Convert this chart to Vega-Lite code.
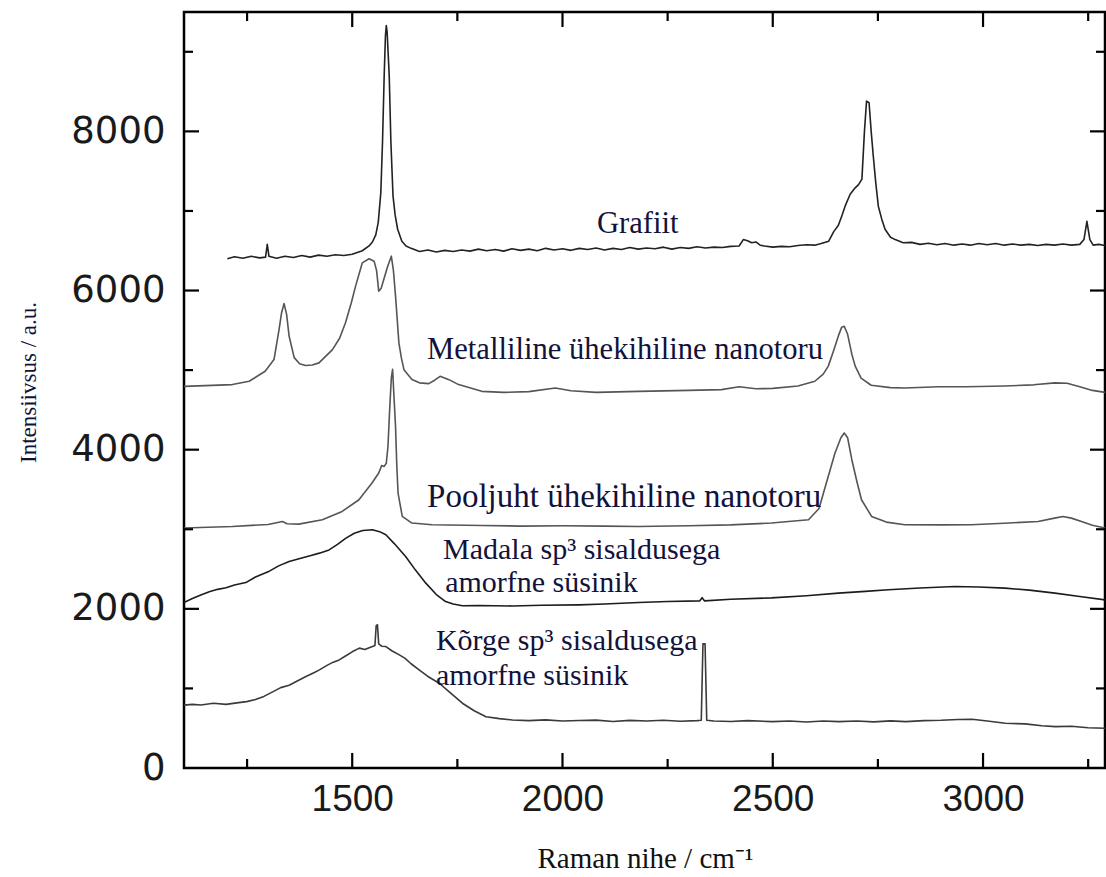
{
  "$schema": "https://vega.github.io/schema/vega-lite/v6.json",
  "autosize": {"type": "none"},
  "width": 921,
  "height": 756,
  "padding": {"left": 184, "top": 12, "right": 1, "bottom": 109},
  "background": "white",
  "config": {
    "view": {"stroke": "black", "strokeWidth": 2.5},
    "axis": {"grid": false, "domain": false, "ticks": false}
  },
  "datasets": {
    "spectra": [
      {"s": "Grafiit", "x": 1203, "y": 6400}, {"s": "Grafiit", "x": 1220, "y": 6425}, {"s": "Grafiit", "x": 1240, "y": 6405},
      {"s": "Grafiit", "x": 1260, "y": 6430}, {"s": "Grafiit", "x": 1280, "y": 6410}, {"s": "Grafiit", "x": 1294, "y": 6420},
      {"s": "Grafiit", "x": 1298, "y": 6580}, {"s": "Grafiit", "x": 1302, "y": 6430}, {"s": "Grafiit", "x": 1320, "y": 6405},
      {"s": "Grafiit", "x": 1340, "y": 6430}, {"s": "Grafiit", "x": 1360, "y": 6415}, {"s": "Grafiit", "x": 1380, "y": 6440},
      {"s": "Grafiit", "x": 1400, "y": 6420}, {"s": "Grafiit", "x": 1420, "y": 6445}, {"s": "Grafiit", "x": 1440, "y": 6430},
      {"s": "Grafiit", "x": 1460, "y": 6450}, {"s": "Grafiit", "x": 1480, "y": 6440}, {"s": "Grafiit", "x": 1500, "y": 6455},
      {"s": "Grafiit", "x": 1524, "y": 6500}, {"s": "Grafiit", "x": 1540, "y": 6560}, {"s": "Grafiit", "x": 1548, "y": 6610},
      {"s": "Grafiit", "x": 1556, "y": 6700}, {"s": "Grafiit", "x": 1562, "y": 6860}, {"s": "Grafiit", "x": 1568, "y": 7230},
      {"s": "Grafiit", "x": 1572, "y": 7860}, {"s": "Grafiit", "x": 1576, "y": 8700}, {"s": "Grafiit", "x": 1579, "y": 9200},
      {"s": "Grafiit", "x": 1581, "y": 9330}, {"s": "Grafiit", "x": 1583, "y": 9250}, {"s": "Grafiit", "x": 1588, "y": 8700},
      {"s": "Grafiit", "x": 1592, "y": 7860}, {"s": "Grafiit", "x": 1597, "y": 7190}, {"s": "Grafiit", "x": 1602, "y": 6950},
      {"s": "Grafiit", "x": 1608, "y": 6770}, {"s": "Grafiit", "x": 1618, "y": 6620}, {"s": "Grafiit", "x": 1628, "y": 6560},
      {"s": "Grafiit", "x": 1640, "y": 6530}, {"s": "Grafiit", "x": 1660, "y": 6490}, {"s": "Grafiit", "x": 1680, "y": 6510},
      {"s": "Grafiit", "x": 1700, "y": 6485}, {"s": "Grafiit", "x": 1720, "y": 6505}, {"s": "Grafiit", "x": 1740, "y": 6490},
      {"s": "Grafiit", "x": 1760, "y": 6510}, {"s": "Grafiit", "x": 1780, "y": 6495}, {"s": "Grafiit", "x": 1800, "y": 6520},
      {"s": "Grafiit", "x": 1820, "y": 6500}, {"s": "Grafiit", "x": 1840, "y": 6515}, {"s": "Grafiit", "x": 1860, "y": 6495},
      {"s": "Grafiit", "x": 1880, "y": 6525}, {"s": "Grafiit", "x": 1900, "y": 6505}, {"s": "Grafiit", "x": 1920, "y": 6520},
      {"s": "Grafiit", "x": 1940, "y": 6500}, {"s": "Grafiit", "x": 1960, "y": 6530}, {"s": "Grafiit", "x": 1980, "y": 6510},
      {"s": "Grafiit", "x": 2000, "y": 6525}, {"s": "Grafiit", "x": 2020, "y": 6505}, {"s": "Grafiit", "x": 2040, "y": 6530},
      {"s": "Grafiit", "x": 2060, "y": 6515}, {"s": "Grafiit", "x": 2080, "y": 6535}, {"s": "Grafiit", "x": 2100, "y": 6510},
      {"s": "Grafiit", "x": 2120, "y": 6530}, {"s": "Grafiit", "x": 2140, "y": 6515}, {"s": "Grafiit", "x": 2160, "y": 6540},
      {"s": "Grafiit", "x": 2180, "y": 6520}, {"s": "Grafiit", "x": 2200, "y": 6535}, {"s": "Grafiit", "x": 2220, "y": 6525},
      {"s": "Grafiit", "x": 2240, "y": 6545}, {"s": "Grafiit", "x": 2260, "y": 6520}, {"s": "Grafiit", "x": 2280, "y": 6540},
      {"s": "Grafiit", "x": 2300, "y": 6530}, {"s": "Grafiit", "x": 2320, "y": 6550}, {"s": "Grafiit", "x": 2340, "y": 6535},
      {"s": "Grafiit", "x": 2360, "y": 6545}, {"s": "Grafiit", "x": 2380, "y": 6540}, {"s": "Grafiit", "x": 2400, "y": 6555},
      {"s": "Grafiit", "x": 2420, "y": 6560}, {"s": "Grafiit", "x": 2430, "y": 6640}, {"s": "Grafiit", "x": 2440, "y": 6625},
      {"s": "Grafiit", "x": 2450, "y": 6600}, {"s": "Grafiit", "x": 2460, "y": 6610}, {"s": "Grafiit", "x": 2470, "y": 6570},
      {"s": "Grafiit", "x": 2480, "y": 6560}, {"s": "Grafiit", "x": 2500, "y": 6545}, {"s": "Grafiit", "x": 2520, "y": 6555},
      {"s": "Grafiit", "x": 2540, "y": 6550}, {"s": "Grafiit", "x": 2560, "y": 6565}, {"s": "Grafiit", "x": 2580, "y": 6575},
      {"s": "Grafiit", "x": 2600, "y": 6570}, {"s": "Grafiit", "x": 2615, "y": 6590}, {"s": "Grafiit", "x": 2633, "y": 6620},
      {"s": "Grafiit", "x": 2645, "y": 6740}, {"s": "Grafiit", "x": 2656, "y": 6820}, {"s": "Grafiit", "x": 2665, "y": 6950},
      {"s": "Grafiit", "x": 2672, "y": 7060}, {"s": "Grafiit", "x": 2684, "y": 7210}, {"s": "Grafiit", "x": 2696, "y": 7290},
      {"s": "Grafiit", "x": 2704, "y": 7330}, {"s": "Grafiit", "x": 2712, "y": 7400}, {"s": "Grafiit", "x": 2718, "y": 8000},
      {"s": "Grafiit", "x": 2723, "y": 8380}, {"s": "Grafiit", "x": 2729, "y": 8360}, {"s": "Grafiit", "x": 2734, "y": 8000},
      {"s": "Grafiit", "x": 2739, "y": 7690}, {"s": "Grafiit", "x": 2745, "y": 7350}, {"s": "Grafiit", "x": 2751, "y": 7060},
      {"s": "Grafiit", "x": 2759, "y": 6900}, {"s": "Grafiit", "x": 2767, "y": 6770}, {"s": "Grafiit", "x": 2780, "y": 6670},
      {"s": "Grafiit", "x": 2791, "y": 6640}, {"s": "Grafiit", "x": 2810, "y": 6600}, {"s": "Grafiit", "x": 2830, "y": 6605},
      {"s": "Grafiit", "x": 2850, "y": 6580}, {"s": "Grafiit", "x": 2870, "y": 6595}, {"s": "Grafiit", "x": 2890, "y": 6575},
      {"s": "Grafiit", "x": 2910, "y": 6590}, {"s": "Grafiit", "x": 2930, "y": 6570}, {"s": "Grafiit", "x": 2950, "y": 6585},
      {"s": "Grafiit", "x": 2970, "y": 6570}, {"s": "Grafiit", "x": 2990, "y": 6590}, {"s": "Grafiit", "x": 3010, "y": 6575},
      {"s": "Grafiit", "x": 3030, "y": 6590}, {"s": "Grafiit", "x": 3050, "y": 6570}, {"s": "Grafiit", "x": 3070, "y": 6585},
      {"s": "Grafiit", "x": 3090, "y": 6570}, {"s": "Grafiit", "x": 3110, "y": 6580}, {"s": "Grafiit", "x": 3130, "y": 6565},
      {"s": "Grafiit", "x": 3150, "y": 6580}, {"s": "Grafiit", "x": 3170, "y": 6570}, {"s": "Grafiit", "x": 3190, "y": 6585},
      {"s": "Grafiit", "x": 3210, "y": 6570}, {"s": "Grafiit", "x": 3230, "y": 6580}, {"s": "Grafiit", "x": 3240, "y": 6640},
      {"s": "Grafiit", "x": 3247, "y": 6870}, {"s": "Grafiit", "x": 3254, "y": 6640}, {"s": "Grafiit", "x": 3262, "y": 6570},
      {"s": "Grafiit", "x": 3275, "y": 6580}, {"s": "Grafiit", "x": 3290, "y": 6565},

      {"s": "Metalliline", "x": 1100, "y": 4796}, {"s": "Metalliline", "x": 1150, "y": 4805}, {"s": "Metalliline", "x": 1215, "y": 4818},
      {"s": "Metalliline", "x": 1255, "y": 4860}, {"s": "Metalliline", "x": 1293, "y": 4985}, {"s": "Metalliline", "x": 1314, "y": 5132},
      {"s": "Metalliline", "x": 1326, "y": 5509}, {"s": "Metalliline", "x": 1332, "y": 5720}, {"s": "Metalliline", "x": 1338, "y": 5836},
      {"s": "Metalliline", "x": 1344, "y": 5700}, {"s": "Metalliline", "x": 1350, "y": 5425}, {"s": "Metalliline", "x": 1362, "y": 5157},
      {"s": "Metalliline", "x": 1375, "y": 5080}, {"s": "Metalliline", "x": 1389, "y": 5057}, {"s": "Metalliline", "x": 1405, "y": 5065},
      {"s": "Metalliline", "x": 1421, "y": 5091}, {"s": "Metalliline", "x": 1453, "y": 5258}, {"s": "Metalliline", "x": 1470, "y": 5400},
      {"s": "Metalliline", "x": 1484, "y": 5594}, {"s": "Metalliline", "x": 1498, "y": 5850}, {"s": "Metalliline", "x": 1508, "y": 6055},
      {"s": "Metalliline", "x": 1524, "y": 6348}, {"s": "Metalliline", "x": 1540, "y": 6399}, {"s": "Metalliline", "x": 1552, "y": 6369},
      {"s": "Metalliline", "x": 1558, "y": 6250}, {"s": "Metalliline", "x": 1563, "y": 5992}, {"s": "Metalliline", "x": 1569, "y": 6030},
      {"s": "Metalliline", "x": 1575, "y": 6138}, {"s": "Metalliline", "x": 1584, "y": 6300}, {"s": "Metalliline", "x": 1593, "y": 6432},
      {"s": "Metalliline", "x": 1598, "y": 6250}, {"s": "Metalliline", "x": 1603, "y": 5929}, {"s": "Metalliline", "x": 1611, "y": 5342},
      {"s": "Metalliline", "x": 1617, "y": 5150}, {"s": "Metalliline", "x": 1623, "y": 5006}, {"s": "Metalliline", "x": 1642, "y": 4881},
      {"s": "Metalliline", "x": 1660, "y": 4840}, {"s": "Metalliline", "x": 1682, "y": 4830}, {"s": "Metalliline", "x": 1695, "y": 4870},
      {"s": "Metalliline", "x": 1709, "y": 4922}, {"s": "Metalliline", "x": 1730, "y": 4880}, {"s": "Metalliline", "x": 1753, "y": 4818},
      {"s": "Metalliline", "x": 1808, "y": 4733}, {"s": "Metalliline", "x": 1860, "y": 4720}, {"s": "Metalliline", "x": 1920, "y": 4730},
      {"s": "Metalliline", "x": 1983, "y": 4776}, {"s": "Metalliline", "x": 2020, "y": 4740}, {"s": "Metalliline", "x": 2080, "y": 4720},
      {"s": "Metalliline", "x": 2181, "y": 4733}, {"s": "Metalliline", "x": 2300, "y": 4745}, {"s": "Metalliline", "x": 2378, "y": 4755},
      {"s": "Metalliline", "x": 2420, "y": 4790}, {"s": "Metalliline", "x": 2460, "y": 4765}, {"s": "Metalliline", "x": 2500, "y": 4770},
      {"s": "Metalliline", "x": 2560, "y": 4800}, {"s": "Metalliline", "x": 2600, "y": 4860}, {"s": "Metalliline", "x": 2620, "y": 4950},
      {"s": "Metalliline", "x": 2632, "y": 5050}, {"s": "Metalliline", "x": 2645, "y": 5250}, {"s": "Metalliline", "x": 2656, "y": 5430},
      {"s": "Metalliline", "x": 2664, "y": 5540}, {"s": "Metalliline", "x": 2670, "y": 5551}, {"s": "Metalliline", "x": 2678, "y": 5450},
      {"s": "Metalliline", "x": 2688, "y": 5200}, {"s": "Metalliline", "x": 2696, "y": 5050}, {"s": "Metalliline", "x": 2710, "y": 4900},
      {"s": "Metalliline", "x": 2734, "y": 4810}, {"s": "Metalliline", "x": 2780, "y": 4780}, {"s": "Metalliline", "x": 2814, "y": 4775},
      {"s": "Metalliline", "x": 2894, "y": 4790}, {"s": "Metalliline", "x": 2960, "y": 4790}, {"s": "Metalliline", "x": 3052, "y": 4800},
      {"s": "Metalliline", "x": 3120, "y": 4815}, {"s": "Metalliline", "x": 3171, "y": 4840}, {"s": "Metalliline", "x": 3200, "y": 4835},
      {"s": "Metalliline", "x": 3230, "y": 4790}, {"s": "Metalliline", "x": 3260, "y": 4745}, {"s": "Metalliline", "x": 3290, "y": 4720},

      {"s": "Pooljuht", "x": 1100, "y": 3015}, {"s": "Pooljuht", "x": 1215, "y": 3035}, {"s": "Pooljuht", "x": 1300, "y": 3060},
      {"s": "Pooljuht", "x": 1334, "y": 3098}, {"s": "Pooljuht", "x": 1345, "y": 3070}, {"s": "Pooljuht", "x": 1373, "y": 3065},
      {"s": "Pooljuht", "x": 1429, "y": 3119}, {"s": "Pooljuht", "x": 1476, "y": 3224}, {"s": "Pooljuht", "x": 1516, "y": 3371},
      {"s": "Pooljuht", "x": 1547, "y": 3581}, {"s": "Pooljuht", "x": 1563, "y": 3707}, {"s": "Pooljuht", "x": 1570, "y": 3800},
      {"s": "Pooljuht", "x": 1576, "y": 3790}, {"s": "Pooljuht", "x": 1581, "y": 3830}, {"s": "Pooljuht", "x": 1585, "y": 4040},
      {"s": "Pooljuht", "x": 1589, "y": 4500}, {"s": "Pooljuht", "x": 1593, "y": 4900}, {"s": "Pooljuht", "x": 1596, "y": 5010},
      {"s": "Pooljuht", "x": 1599, "y": 4700}, {"s": "Pooljuht", "x": 1603, "y": 4293}, {"s": "Pooljuht", "x": 1606, "y": 3800},
      {"s": "Pooljuht", "x": 1609, "y": 3455}, {"s": "Pooljuht", "x": 1619, "y": 3161}, {"s": "Pooljuht", "x": 1642, "y": 3078},
      {"s": "Pooljuht", "x": 1690, "y": 3057}, {"s": "Pooljuht", "x": 1809, "y": 3048}, {"s": "Pooljuht", "x": 1900, "y": 3040},
      {"s": "Pooljuht", "x": 2000, "y": 3045}, {"s": "Pooljuht", "x": 2100, "y": 3040}, {"s": "Pooljuht", "x": 2181, "y": 3035},
      {"s": "Pooljuht", "x": 2300, "y": 3045}, {"s": "Pooljuht", "x": 2400, "y": 3055}, {"s": "Pooljuht", "x": 2497, "y": 3078},
      {"s": "Pooljuht", "x": 2585, "y": 3119}, {"s": "Pooljuht", "x": 2610, "y": 3260}, {"s": "Pooljuht", "x": 2625, "y": 3538},
      {"s": "Pooljuht", "x": 2648, "y": 3958}, {"s": "Pooljuht", "x": 2662, "y": 4150}, {"s": "Pooljuht", "x": 2670, "y": 4210},
      {"s": "Pooljuht", "x": 2678, "y": 4150}, {"s": "Pooljuht", "x": 2688, "y": 3874}, {"s": "Pooljuht", "x": 2700, "y": 3600},
      {"s": "Pooljuht", "x": 2711, "y": 3371}, {"s": "Pooljuht", "x": 2735, "y": 3161}, {"s": "Pooljuht", "x": 2770, "y": 3090},
      {"s": "Pooljuht", "x": 2814, "y": 3057}, {"s": "Pooljuht", "x": 2900, "y": 3055}, {"s": "Pooljuht", "x": 2972, "y": 3057},
      {"s": "Pooljuht", "x": 3050, "y": 3075}, {"s": "Pooljuht", "x": 3131, "y": 3098}, {"s": "Pooljuht", "x": 3170, "y": 3140},
      {"s": "Pooljuht", "x": 3190, "y": 3161}, {"s": "Pooljuht", "x": 3210, "y": 3140}, {"s": "Pooljuht", "x": 3234, "y": 3098},
      {"s": "Pooljuht", "x": 3260, "y": 3050}, {"s": "Pooljuht", "x": 3290, "y": 3015},

      {"s": "Madala", "x": 1100, "y": 2080}, {"s": "Madala", "x": 1120, "y": 2130}, {"s": "Madala", "x": 1140, "y": 2175},
      {"s": "Madala", "x": 1160, "y": 2215}, {"s": "Madala", "x": 1180, "y": 2245}, {"s": "Madala", "x": 1200, "y": 2265},
      {"s": "Madala", "x": 1220, "y": 2300}, {"s": "Madala", "x": 1247, "y": 2330}, {"s": "Madala", "x": 1270, "y": 2400},
      {"s": "Madala", "x": 1300, "y": 2465}, {"s": "Madala", "x": 1325, "y": 2540}, {"s": "Madala", "x": 1350, "y": 2595},
      {"s": "Madala", "x": 1380, "y": 2640}, {"s": "Madala", "x": 1400, "y": 2668}, {"s": "Madala", "x": 1422, "y": 2700},
      {"s": "Madala", "x": 1445, "y": 2740}, {"s": "Madala", "x": 1465, "y": 2810}, {"s": "Madala", "x": 1485, "y": 2889},
      {"s": "Madala", "x": 1505, "y": 2950}, {"s": "Madala", "x": 1525, "y": 2985}, {"s": "Madala", "x": 1548, "y": 2994},
      {"s": "Madala", "x": 1565, "y": 2970}, {"s": "Madala", "x": 1580, "y": 2931}, {"s": "Madala", "x": 1600, "y": 2820},
      {"s": "Madala", "x": 1627, "y": 2658}, {"s": "Madala", "x": 1650, "y": 2490}, {"s": "Madala", "x": 1675, "y": 2323},
      {"s": "Madala", "x": 1700, "y": 2180}, {"s": "Madala", "x": 1722, "y": 2092}, {"s": "Madala", "x": 1740, "y": 2060},
      {"s": "Madala", "x": 1762, "y": 2038}, {"s": "Madala", "x": 1800, "y": 2042}, {"s": "Madala", "x": 1881, "y": 2036},
      {"s": "Madala", "x": 1950, "y": 2045}, {"s": "Madala", "x": 2039, "y": 2050}, {"s": "Madala", "x": 2100, "y": 2060},
      {"s": "Madala", "x": 2181, "y": 2080}, {"s": "Madala", "x": 2250, "y": 2092}, {"s": "Madala", "x": 2326, "y": 2100},
      {"s": "Madala", "x": 2332, "y": 2140}, {"s": "Madala", "x": 2338, "y": 2100}, {"s": "Madala", "x": 2400, "y": 2120},
      {"s": "Madala", "x": 2497, "y": 2138}, {"s": "Madala", "x": 2580, "y": 2165}, {"s": "Madala", "x": 2656, "y": 2197},
      {"s": "Madala", "x": 2720, "y": 2220}, {"s": "Madala", "x": 2775, "y": 2239}, {"s": "Madala", "x": 2850, "y": 2262},
      {"s": "Madala", "x": 2933, "y": 2281}, {"s": "Madala", "x": 2990, "y": 2275}, {"s": "Madala", "x": 3052, "y": 2260},
      {"s": "Madala", "x": 3110, "y": 2235}, {"s": "Madala", "x": 3171, "y": 2197}, {"s": "Madala", "x": 3230, "y": 2155},
      {"s": "Madala", "x": 3290, "y": 2113},

      {"s": "Korge", "x": 1100, "y": 790}, {"s": "Korge", "x": 1120, "y": 800}, {"s": "Korge", "x": 1140, "y": 792},
      {"s": "Korge", "x": 1170, "y": 814}, {"s": "Korge", "x": 1200, "y": 800}, {"s": "Korge", "x": 1230, "y": 822},
      {"s": "Korge", "x": 1249, "y": 834}, {"s": "Korge", "x": 1270, "y": 860}, {"s": "Korge", "x": 1290, "y": 900},
      {"s": "Korge", "x": 1312, "y": 960}, {"s": "Korge", "x": 1330, "y": 1010}, {"s": "Korge", "x": 1350, "y": 1040},
      {"s": "Korge", "x": 1367, "y": 1086}, {"s": "Korge", "x": 1390, "y": 1150}, {"s": "Korge", "x": 1410, "y": 1200},
      {"s": "Korge", "x": 1422, "y": 1233}, {"s": "Korge", "x": 1440, "y": 1290}, {"s": "Korge", "x": 1455, "y": 1330},
      {"s": "Korge", "x": 1469, "y": 1358}, {"s": "Korge", "x": 1485, "y": 1410}, {"s": "Korge", "x": 1500, "y": 1460},
      {"s": "Korge", "x": 1517, "y": 1506}, {"s": "Korge", "x": 1530, "y": 1490}, {"s": "Korge", "x": 1548, "y": 1526},
      {"s": "Korge", "x": 1554, "y": 1540}, {"s": "Korge", "x": 1557, "y": 1790}, {"s": "Korge", "x": 1560, "y": 1800},
      {"s": "Korge", "x": 1563, "y": 1560}, {"s": "Korge", "x": 1570, "y": 1530}, {"s": "Korge", "x": 1580, "y": 1526},
      {"s": "Korge", "x": 1595, "y": 1470}, {"s": "Korge", "x": 1612, "y": 1421}, {"s": "Korge", "x": 1625, "y": 1380},
      {"s": "Korge", "x": 1640, "y": 1310}, {"s": "Korge", "x": 1659, "y": 1233}, {"s": "Korge", "x": 1680, "y": 1150},
      {"s": "Korge", "x": 1707, "y": 1065}, {"s": "Korge", "x": 1730, "y": 960}, {"s": "Korge", "x": 1762, "y": 814},
      {"s": "Korge", "x": 1790, "y": 720}, {"s": "Korge", "x": 1818, "y": 645}, {"s": "Korge", "x": 1850, "y": 620},
      {"s": "Korge", "x": 1881, "y": 604}, {"s": "Korge", "x": 1920, "y": 595}, {"s": "Korge", "x": 1960, "y": 605},
      {"s": "Korge", "x": 2000, "y": 590}, {"s": "Korge", "x": 2040, "y": 597}, {"s": "Korge", "x": 2080, "y": 602},
      {"s": "Korge", "x": 2120, "y": 585}, {"s": "Korge", "x": 2160, "y": 598}, {"s": "Korge", "x": 2200, "y": 590},
      {"s": "Korge", "x": 2240, "y": 600}, {"s": "Korge", "x": 2280, "y": 588}, {"s": "Korge", "x": 2320, "y": 595},
      {"s": "Korge", "x": 2330, "y": 600}, {"s": "Korge", "x": 2334, "y": 1560}, {"s": "Korge", "x": 2339, "y": 1560},
      {"s": "Korge", "x": 2343, "y": 600}, {"s": "Korge", "x": 2360, "y": 590}, {"s": "Korge", "x": 2400, "y": 585},
      {"s": "Korge", "x": 2440, "y": 595}, {"s": "Korge", "x": 2499, "y": 583}, {"s": "Korge", "x": 2540, "y": 590},
      {"s": "Korge", "x": 2580, "y": 578}, {"s": "Korge", "x": 2620, "y": 590}, {"s": "Korge", "x": 2657, "y": 583},
      {"s": "Korge", "x": 2700, "y": 590}, {"s": "Korge", "x": 2740, "y": 580}, {"s": "Korge", "x": 2780, "y": 592},
      {"s": "Korge", "x": 2816, "y": 583}, {"s": "Korge", "x": 2860, "y": 595}, {"s": "Korge", "x": 2900, "y": 600},
      {"s": "Korge", "x": 2940, "y": 610}, {"s": "Korge", "x": 2974, "y": 612}, {"s": "Korge", "x": 3010, "y": 590},
      {"s": "Korge", "x": 3053, "y": 562}, {"s": "Korge", "x": 3100, "y": 555}, {"s": "Korge", "x": 3140, "y": 530},
      {"s": "Korge", "x": 3172, "y": 520}, {"s": "Korge", "x": 3210, "y": 525}, {"s": "Korge", "x": 3250, "y": 505},
      {"s": "Korge", "x": 3290, "y": 499}
    ],
    "labels": [
      {"g": "a", "t": "Grafiit", "x": 2082, "y": 6830},
      {"g": "a", "t": "Metalliline ühekihiline nanotoru", "x": 1678, "y": 5258},
      {"g": "b", "t": "Pooljuht ühekihiline nanotoru", "x": 1678, "y": 3409},
      {"g": "c", "t": "Madala sp³ sisaldusega", "x": 1716, "y": 2742},
      {"g": "c", "t": "amorfne süsinik", "x": 1721, "y": 2327},
      {"g": "c", "t": "Kõrge sp³ sisaldusega", "x": 1699, "y": 1597},
      {"g": "c", "t": "amorfne süsinik", "x": 1699, "y": 1157}
    ],
    "xMajor": [{"v": 1500}, {"v": 2000}, {"v": 2500}, {"v": 3000}],
    "xMinor": [{"v": 1250}, {"v": 1750}, {"v": 2250}, {"v": 2750}, {"v": 3250}],
    "yMajor": [{"v": 2000}, {"v": 4000}, {"v": 6000}, {"v": 8000}],
    "yMinor": [{"v": 1000}, {"v": 3000}, {"v": 5000}, {"v": 7000}, {"v": 9000}]
  },
  "layer": [
    {
      "data": {"name": "spectra"},
      "mark": {"type": "line", "strokeJoin": "round"},
      "encoding": {
        "x": {
          "field": "x", "type": "quantitative",
          "scale": {"domain": [1100, 3290], "nice": false, "zero": false},
          "axis": {
            "orient": "bottom",
            "values": [1500, 2000, 2500, 3000],
            "format": "d",
            "labelPadding": 13,
            "labelFont": "Liberation Sans",
            "labelFontSize": 37,
            "labelColor": "#1a1a1a",
            "title": "Raman nihe / cm⁻¹",
            "titleFont": "Liberation Serif",
            "titleFontSize": 29,
            "titleFontWeight": "normal",
            "titleColor": "#111111",
            "titleX": 461,
            "titleY": 90,
            "titleBaseline": "middle",
            "titleAlign": "center"
          }
        },
        "y": {
          "field": "y", "type": "quantitative",
          "scale": {"domain": [0, 9500], "nice": false, "zero": false},
          "axis": {
            "orient": "left",
            "values": [0, 2000, 4000, 6000, 8000],
            "format": "d",
            "labelPadding": 19,
            "labelFont": "DejaVu Sans",
            "labelFontSize": 37,
            "labelColor": "#1a1a1a",
            "title": "Intensiivsus / a.u.",
            "titleFont": "Liberation Serif",
            "titleFontSize": 23,
            "titleFontWeight": "normal",
            "titleColor": "#10103a",
            "titleAngle": 270,
            "titleX": -156,
            "titleY": 370,
            "titleBaseline": "middle",
            "titleAlign": "center"
          }
        },
        "color": {
          "field": "s", "type": "nominal", "legend": null,
          "scale": {"domain": ["Grafiit", "Metalliline", "Pooljuht", "Madala", "Korge"],
                    "range": ["#222222", "#555555", "#555555", "#1c1c1c", "#3a3a3a"]}
        },
        "strokeWidth": {
          "field": "s", "type": "nominal", "legend": null,
          "scale": {"domain": ["Grafiit", "Metalliline", "Pooljuht", "Madala", "Korge"],
                    "range": [1.6, 1.6, 1.6, 2.6, 1.6]}
        }
      }
    },
    {
      "data": {"name": "labels"},
      "transform": [{"filter": "datum.g === 'a'"}],
      "mark": {"type": "text", "align": "left", "baseline": "middle", "font": "Liberation Serif", "fontSize": 30.6, "color": "#12123a"},
      "encoding": {
        "text": {"field": "t"},
        "x": {"field": "x", "type": "quantitative"},
        "y": {"field": "y", "type": "quantitative"}
      }
    },
    {
      "data": {"name": "labels"},
      "transform": [{"filter": "datum.g === 'b'"}],
      "mark": {"type": "text", "align": "left", "baseline": "middle", "font": "Liberation Serif", "fontSize": 33, "color": "#12123a"},
      "encoding": {
        "text": {"field": "t"},
        "x": {"field": "x", "type": "quantitative"},
        "y": {"field": "y", "type": "quantitative"}
      }
    },
    {
      "data": {"name": "labels"},
      "transform": [{"filter": "datum.g === 'c'"}],
      "mark": {"type": "text", "align": "left", "baseline": "middle", "font": "Liberation Serif", "fontSize": 30, "color": "#12123a"},
      "encoding": {
        "text": {"field": "t"},
        "x": {"field": "x", "type": "quantitative"},
        "y": {"field": "y", "type": "quantitative"}
      }
    },
    {
      "data": {"name": "xMajor"},
      "layer": [
        {"mark": {"type": "rule", "color": "black", "strokeWidth": 2.2},
         "encoding": {"x": {"field": "v", "type": "quantitative"}, "y": {"datum": 0, "type": "quantitative"}, "y2": {"datum": 189}}},
        {"mark": {"type": "rule", "color": "black", "strokeWidth": 2.2},
         "encoding": {"x": {"field": "v", "type": "quantitative"}, "y": {"datum": 9500, "type": "quantitative"}, "y2": {"datum": 9311}}}
      ]
    },
    {
      "data": {"name": "xMinor"},
      "layer": [
        {"mark": {"type": "rule", "color": "black", "strokeWidth": 2.2},
         "encoding": {"x": {"field": "v", "type": "quantitative"}, "y": {"datum": 0, "type": "quantitative"}, "y2": {"datum": 113}}},
        {"mark": {"type": "rule", "color": "black", "strokeWidth": 2.2},
         "encoding": {"x": {"field": "v", "type": "quantitative"}, "y": {"datum": 9500, "type": "quantitative"}, "y2": {"datum": 9387}}}
      ]
    },
    {
      "data": {"name": "yMajor"},
      "layer": [
        {"mark": {"type": "rule", "color": "black", "strokeWidth": 2.2},
         "encoding": {"y": {"field": "v", "type": "quantitative"}, "x": {"datum": 1100, "type": "quantitative"}, "x2": {"datum": 1135.7}}},
        {"mark": {"type": "rule", "color": "black", "strokeWidth": 2.2},
         "encoding": {"y": {"field": "v", "type": "quantitative"}, "x": {"datum": 3290, "type": "quantitative"}, "x2": {"datum": 3254.3}}}
      ]
    },
    {
      "data": {"name": "yMinor"},
      "layer": [
        {"mark": {"type": "rule", "color": "black", "strokeWidth": 2.2},
         "encoding": {"y": {"field": "v", "type": "quantitative"}, "x": {"datum": 1100, "type": "quantitative"}, "x2": {"datum": 1121.4}}},
        {"mark": {"type": "rule", "color": "black", "strokeWidth": 2.2},
         "encoding": {"y": {"field": "v", "type": "quantitative"}, "x": {"datum": 3290, "type": "quantitative"}, "x2": {"datum": 3268.6}}}
      ]
    }
  ]
}
